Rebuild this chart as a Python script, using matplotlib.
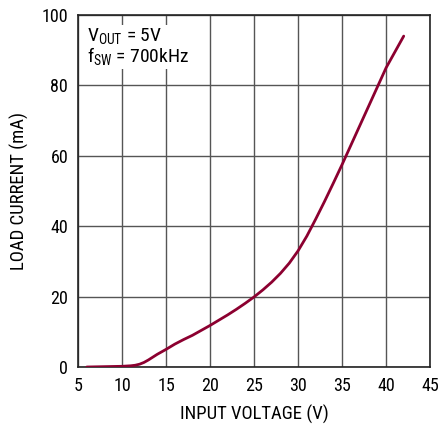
import matplotlib
matplotlib.use("Agg")
import matplotlib.pyplot as plt

# Curve
vin = [6, 8, 10, 11, 11.5, 12, 12.5, 13, 14, 15, 16, 17, 18, 20, 22, 23, 24, 25, 26,
       27, 28, 29, 30, 31, 32, 33, 34, 35, 36, 37, 38, 39, 40, 41, 42]
iload = [0, 0.1, 0.2, 0.35, 0.5, 0.8, 1.3, 2.0, 3.6, 5.0, 6.5, 7.8, 9.0, 11.8,
         14.8, 16.4, 18.1, 19.9, 21.9, 24.1, 26.6, 29.5, 33.0, 37.2, 42.0,
         47.0, 52.2, 57.5, 63.0, 68.5, 74.0, 79.5, 85.0, 89.5, 94.0]

xticks = [5, 10, 15, 20, 25, 30, 35, 40, 45]
yticks = [0, 20, 40, 60, 80, 100]

plt.rcParams["font.family"] = ["Roboto Condensed", "DejaVu Sans"]
plt.rcParams["mathtext.fontset"] = "custom"
plt.rcParams["mathtext.rm"] = "Roboto Condensed"

fig = plt.figure(figsize=(4.38, 4.28), dpi=100)
ax = fig.add_axes([0.178, 0.1425, 0.804, 0.8225])

ax.plot(vin, iload, color="#8c0030", lw=2.0, solid_capstyle="round", zorder=3)

ax.set_xlim(5, 45)
ax.set_ylim(0, 100)
ax.set_xticks(xticks)
ax.set_yticks(yticks)
ax.tick_params(length=0, labelsize=13, pad=7)
ax.grid(True, color="#555555", lw=1.0)
for s in ax.spines.values():
    s.set_color("#222222")
    s.set_linewidth(1.2)

ax.set_xlabel("INPUT VOLTAGE (V)", fontsize=13.5, labelpad=7)
ax.set_ylabel("LOAD CURRENT (mA)", fontsize=13.5, labelpad=9)

ax.text(0.027, 0.968, r"V$_{\mathregular{OUT}}$ = 5V" + "\n" + r"f$_{\mathregular{SW}}$ = 700kHz",
        transform=ax.transAxes, ha="left", va="top", fontsize=14,
        linespacing=0.95, bbox=dict(facecolor="white", edgecolor="none", pad=1))

fig.savefig("out.png", dpi=100)
